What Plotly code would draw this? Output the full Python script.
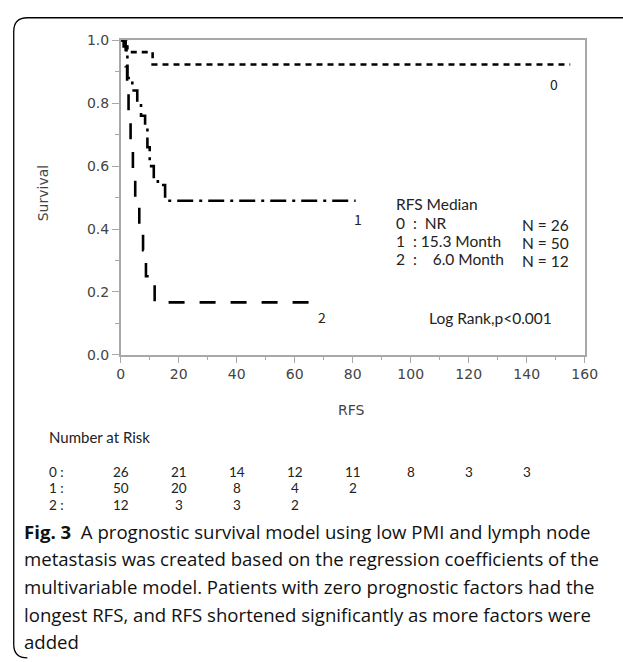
import plotly.graph_objects as go

W, H = 623, 662

# ---- data ----
g0_t = [0, 2.0, 11.0, 155.0]
g0_s = [1.0, 0.962, 0.923, 0.923]

g1_t = [0, 1.0, 2.3, 4.0, 5.7, 7.0, 8.4, 9.2, 10.0, 11.4, 12.8, 15.3, 81.0]
g1_s = [1.0, 0.98, 0.88, 0.84, 0.80, 0.76, 0.72, 0.66, 0.60, 0.56, 0.54, 0.49, 0.49]

g2_t = [0, 1.7, 2.2, 2.7, 3.4, 4.2, 5.0, 6.4, 7.7, 8.7, 11.7, 66.5]
g2_s = [1.0, 0.917, 0.833, 0.75, 0.667, 0.583, 0.5, 0.417, 0.333, 0.25, 0.167, 0.167]

risk_times = [0, 20, 40, 60, 80, 100, 120, 140]
risk_labels = ["0 :", "1 :", "2 :"]
risk_0 = [26, 21, 14, 12, 11, 8, 3, 3]
risk_1 = [50, 20, 8, 4, 2]
risk_2 = [12, 3, 3, 2]

x_ticks = [0, 20, 40, 60, 80, 100, 120, 140, 160]
y_ticks = [0.0, 0.2, 0.4, 0.6, 0.8, 1.0]

median_lines = ["RFS Median",
                "0\u00a0\u00a0:\u00a0\u00a0NR",
                "1\u00a0\u00a0:\u00a015.3 Month",
                "2\u00a0\u00a0:\u00a0\u00a0\u00a0\u00a06.0 Month"]
n_lines = ["N = 26", "N = 50", "N = 12"]

caption_lines = [
    "<b>Fig. 3</b>  A prognostic survival model using low PMI and lymph node",
    "metastasis was created based on the regression coefficients of the",
    "multivariable model. Patients with zero prognostic factors had the",
    "longest RFS, and RFS shortened significantly as more factors were",
    "added",
]


def px(x):
    return x / W


def py(y):
    return 1 - y / H


fig = go.Figure()
line_w = 2.6
fig.add_trace(go.Scatter(x=g0_t, y=g0_s, mode="lines", line_shape="hv",
                         line=dict(color="black", width=line_w, dash="6px,5px"),
                         showlegend=False, hoverinfo="skip"))
fig.add_trace(go.Scatter(x=g1_t, y=g1_s, mode="lines", line_shape="hv",
                         line=dict(color="black", width=line_w, dash="16px,6px,3px,6px"),
                         showlegend=False, hoverinfo="skip"))
fig.add_trace(go.Scatter(x=g2_t, y=g2_s, mode="lines", line_shape="hv",
                         line=dict(color="black", width=line_w, dash="16px,15px"),
                         showlegend=False, hoverinfo="skip"))

axis_col = "#a8a8a8"
tick_font = dict(family="DejaVu Sans", size=14, color="#444444")

fig.update_xaxes(range=[0, 160], domain=[px(120), px(597)],
                 tickvals=x_ticks, ticks="outside", ticklen=6, tickcolor=axis_col,
                 tickwidth=1.3, showline=True, linecolor=axis_col, linewidth=1.5,
                 mirror=True, showgrid=False, zeroline=False, tickfont=tick_font,
                 minor=dict(dtick=10, ticks="outside", ticklen=3, tickcolor=axis_col,
                            tickwidth=1.3, showgrid=False))
fig.update_yaxes(range=[0, 1.0], domain=[py(355.5), py(33)],
                 tickvals=y_ticks, tickformat=".1f", ticks="outside", ticklen=7,
                 tickcolor=axis_col, tickwidth=1.3, showline=True, linecolor=axis_col,
                 linewidth=1.5, mirror=True, showgrid=False, zeroline=False,
                 tickfont=tick_font,
                 minor=dict(dtick=0.1, ticks="outside", ticklen=4, tickcolor=axis_col,
                            tickwidth=1.3, showgrid=False))

ann = []
jp = "Noto Sans CJK JP"
lato = "Lato"
txt_col = "#222222"


def A(text, x, y, xref="paper", yref="paper", size=14, family=jp, xanchor="left",
      yanchor="middle", angle=0, color=txt_col, align="left"):
    ann.append(dict(text=text, x=x, y=y, xref=xref, yref=yref, showarrow=False,
                    xanchor=xanchor, yanchor=yanchor, textangle=angle, align=align,
                    font=dict(family=family, size=size, color=color)))


# curve labels
A("0", 149.3, 0.86, "x", "y", xanchor="center")
A("1", 81.9, 0.433, "x", "y", xanchor="center")
A("2", 69.5, 0.12, "x", "y", xanchor="center")

# median box
for line, yy in zip(median_lines, [201, 220, 239, 257.5]):
    A(line, px(401), py(yy), size=15.5, family=lato)
for line, yy in zip(n_lines, [222, 240.5, 259]):
    A(line, px(530), py(yy), size=15.5, family=lato)
A("Log Rank,p<0.001", px(500), py(318), size=15.5, family=lato, xanchor="center")

# axis titles
A("Survival", px(41), py(190), size=14, family="DejaVu Sans", xanchor="center",
  angle=-90, color="#444444")
A("RFS", px(357), py(412), size=14, family="DejaVu Sans", xanchor="center",
  color="#444444")

# number at risk
A("Number at Risk", px(44), py(440), size=15, family=lato)
rows = [risk_0, risk_1, risk_2]
row_y = [475, 492, 509]
for lab, yy in zip(risk_labels, row_y):
    A(lab, px(44), py(yy), size=13.5, family=lato)
for vals, yy in zip(rows, row_y):
    for t, v in zip(risk_times, vals):
        A(str(v), t, py(yy), xref="x", size=13.5, family=lato, xanchor="center")

# caption
cap_y = [536, 564.5, 593, 621.5, 649]
for line, yy in zip(caption_lines, cap_y):
    A(line, px(19), py(yy), size=18.6, family="Open Sans", color="#111111")

fig.update_layout(annotations=ann)

# outer rounded frame
path = (f"M {px(700)},{py(10)} L {px(24)},{py(10)} Q {px(10)},{py(10)} {px(10)},{py(24)} "
        f"L {px(10)},{py(652)} Q {px(10)},{py(666)} {px(24)},{py(666)}")
fig.add_shape(type="path", path=path, xref="paper", yref="paper",
              line=dict(color="black", width=1.3))

fig.update_layout(width=W, height=H, margin=dict(l=0, r=0, t=0, b=0),
                  paper_bgcolor="white", plot_bgcolor="white", showlegend=False)

fig.write_html("out.html", config={"displayModeBar": False},
               post_script="document.body.style.margin='0px';document.body.style.padding='0px';")
